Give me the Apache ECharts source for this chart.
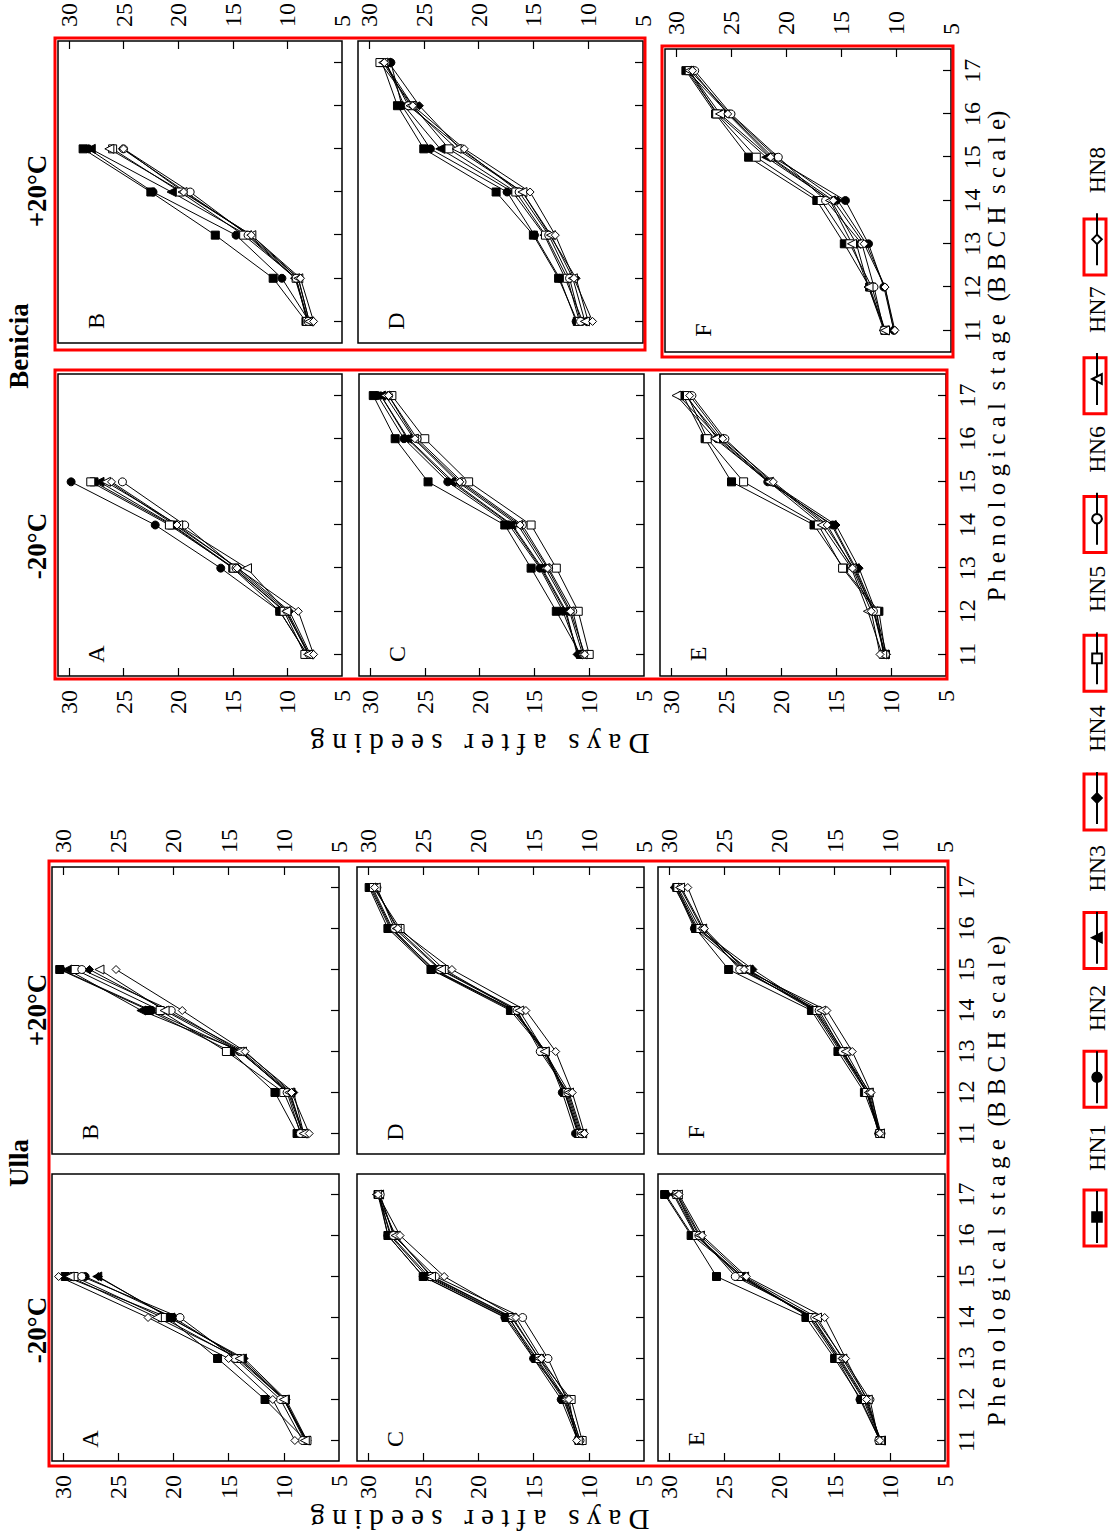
<!DOCTYPE html>
<html><head><meta charset="utf-8">
<script src="https://cdn.jsdelivr.net/npm/echarts/dist/echarts.min.js"></script>
<style>
html,body{margin:0;padding:0;background:#fff;overflow:hidden;}
#wrap{position:absolute;left:0;top:0;width:1111px;height:1538px;overflow:hidden;background:#fff;}
#chart{position:absolute;left:0;top:0;width:1538px;height:1111px;transform-origin:0 0;transform:translate(0px,1538px) rotate(-90deg);}
</style></head>
<body><div id="wrap"><div id="chart"></div></div>
<script>
// ---------------- data ----------------
const stages = ['11','12','13','14','15','16','17'];
const dayTicks = [5, 10, 15, 20, 25, 30];
const lines = ['HN1','HN2','HN3','HN4','HN5','HN6','HN7','HN8'];
const markerShapes = ['rect','circle','triangle','diamond','rect','circle','triangle','diamond'];
const markerFilled = [true,true,true,true,false,false,false,false];

// Ulla, -20°C (A) and +20°C (B): only stages 11-15 fall inside the axis
const ullaA = [
  [8.0, 11.7, 16.0, 20.5, 29.8],
  [8.0, 10.0, 14.0, 20.0, 28.0],
  [8.0, 9.9, 13.8, 20.3, 26.9],
  [7.9, 9.8, 13.6, 20.4, 26.8],
  [7.9, 10.0, 14.2, 21.0, 29.0],
  [8.3, 10.3, 14.4, 19.4, 28.3],
  [8.1, 10.0, 14.0, 21.5, 29.4],
  [9.0, 11.0, 15.0, 22.3, 30.4]
];
const ullaB = [
  [8.8, 10.8, 14.8, 22.2, 30.3],
  [8.3, 9.6, 14.0, 22.0, 30.2],
  [8.3, 9.4, 13.8, 22.9, 29.6],
  [8.2, 9.1, 13.6, 20.6, 27.6],
  [8.4, 10.0, 15.2, 21.2, 28.9],
  [8.5, 9.7, 13.9, 20.2, 28.3],
  [8.2, 9.5, 14.0, 20.8, 26.7],
  [7.7, 9.3, 13.5, 19.2, 25.2]
];
const ullaC = [
  [10.9, 12.3, 14.8, 17.5, 25.0, 28.2, 29.1],
  [11.0, 12.5, 15.0, 17.6, 25.0, 28.2, 29.0],
  [10.9, 12.2, 14.7, 17.3, 24.7, 28.0, 29.0],
  [10.8, 12.0, 15.0, 17.2, 24.5, 27.9, 29.1],
  [10.6, 11.6, 14.5, 16.9, 24.2, 27.6, 29.0],
  [10.8, 12.0, 13.7, 16.0, 23.9, 27.7, 28.9],
  [11.0, 12.1, 14.5, 17.0, 24.3, 27.5, 29.2],
  [11.1, 11.8, 14.3, 16.6, 23.1, 27.1, 29.1]
];
const ullaD = [
  [10.9, 12.2, 14.0, 17.1, 24.3, 28.2, 29.9],
  [11.2, 12.4, 13.9, 16.9, 24.2, 28.0, 29.8],
  [11.0, 12.2, 14.0, 16.8, 24.0, 27.9, 29.7],
  [10.9, 12.1, 13.9, 16.7, 24.1, 27.8, 29.6],
  [10.8, 12.0, 14.2, 16.6, 23.1, 27.1, 29.5],
  [10.7, 11.9, 14.4, 16.5, 23.5, 27.6, 29.2],
  [10.6, 11.8, 14.0, 16.3, 23.4, 27.4, 29.3],
  [10.4, 11.5, 13.0, 15.7, 22.4, 27.3, 29.4]
];
const ullaE = [
  [10.9, 12.6, 15.0, 17.6, 25.7, 28.0, 30.4],
  [10.9, 12.7, 14.8, 17.3, 23.3, 27.9, 30.3],
  [10.8, 12.3, 14.6, 17.2, 23.5, 27.6, 29.6],
  [10.9, 12.4, 14.7, 17.0, 23.4, 27.5, 29.5],
  [10.8, 12.2, 14.5, 17.0, 23.7, 27.5, 29.3],
  [11.0, 11.8, 14.2, 16.8, 24.0, 27.3, 29.3],
  [10.9, 12.0, 14.3, 16.6, 23.2, 27.2, 29.2],
  [10.9, 12.1, 14.0, 15.9, 23.0, 27.0, 29.1]
];
const ullaF = [
  [10.9, 12.3, 14.7, 17.1, 24.6, 27.6, 29.3],
  [11.0, 12.1, 14.5, 16.9, 23.2, 27.7, 29.4],
  [10.9, 12.0, 14.3, 16.8, 22.8, 27.5, 29.5],
  [11.0, 12.0, 14.4, 16.7, 22.4, 27.4, 29.3],
  [10.9, 12.1, 14.2, 16.6, 23.4, 27.2, 29.2],
  [10.8, 11.8, 14.3, 16.4, 23.6, 26.9, 28.9],
  [10.9, 11.9, 14.0, 16.2, 23.0, 27.0, 29.0],
  [10.9, 11.7, 13.4, 15.7, 23.2, 26.8, 28.3]
];
// Benicia
const benA = [
  [8.2, 10.7, 15.0, 20.6, 27.7],
  [8.2, 10.7, 16.1, 22.1, 29.8],
  [8.0, 10.2, 14.9, 20.5, 27.2],
  [7.9, 9.8, 14.5, 20.3, 26.3],
  [8.4, 10.3, 14.9, 20.8, 28.0],
  [8.0, 10.0, 14.7, 19.4, 25.1],
  [8.1, 10.1, 13.7, 20.0, 26.6],
  [7.6, 9.0, 14.6, 20.1, 26.1]
];
const benB = [
  [8.3, 11.3, 16.6, 22.5, 28.7],
  [8.0, 10.5, 14.7, 22.3, 28.2],
  [8.1, 9.3, 13.7, 20.6, 28.0],
  [8.0, 9.0, 13.5, 19.3, 25.1],
  [8.2, 9.2, 14.0, 19.8, 26.0],
  [8.1, 9.2, 13.6, 18.9, 25.0],
  [8.0, 9.0, 13.3, 19.6, 26.3],
  [7.6, 8.8, 13.3, 19.5, 25.0]
];
const benC = [
  [10.8, 13.0, 15.3, 17.7, 24.7, 27.7, 29.7],
  [10.9, 12.4, 14.5, 17.3, 22.9, 26.9, 29.3],
  [11.0, 12.2, 14.4, 17.1, 22.6, 26.6, 29.0],
  [11.1, 12.1, 14.3, 17.0, 22.4, 26.5, 29.0],
  [10.0, 11.0, 13.0, 15.3, 21.0, 25.0, 28.0],
  [10.5, 11.5, 13.7, 16.1, 21.6, 25.7, 28.3],
  [10.6, 11.8, 14.0, 16.5, 22.0, 26.0, 28.6],
  [10.4, 11.7, 13.8, 16.3, 21.8, 25.9, 28.3]
];
const benD = [
  [11.0, 12.7, 15.0, 18.4, 25.0, 27.4, 28.8],
  [11.1, 12.6, 14.9, 17.4, 24.4, 27.0, 28.0],
  [10.5, 12.1, 14.0, 16.9, 23.5, 26.8, 28.4],
  [10.0, 11.1, 13.5, 16.0, 21.7, 25.4, 28.2],
  [10.8, 11.9, 13.9, 16.6, 22.7, 26.0, 29.0],
  [10.7, 11.7, 13.6, 16.3, 21.5, 26.4, 28.5],
  [10.3, 11.4, 13.4, 16.0, 22.0, 26.2, 28.7],
  [9.6, 11.3, 13.0, 15.3, 21.3, 26.0, 28.6]
];
const benE = [
  [10.5, 11.1, 14.3, 17.0, 24.5, 26.9, 28.9],
  [10.6, 11.5, 13.2, 15.3, 21.2, 25.8, 28.6],
  [10.6, 11.6, 13.3, 15.4, 21.1, 25.6, 29.3],
  [10.4, 11.4, 12.9, 15.0, 21.0, 25.5, 28.7],
  [10.7, 11.3, 14.4, 16.6, 23.4, 26.7, 28.5],
  [10.5, 11.6, 13.4, 16.0, 20.9, 25.1, 28.1],
  [10.8, 12.1, 13.6, 16.3, 21.1, 26.0, 29.5],
  [11.0, 11.8, 13.5, 15.8, 20.7, 25.3, 28.3]
];
const benF = [
  [11.0, 12.4, 14.7, 17.2, 23.4, 26.4, 29.1],
  [10.2, 11.1, 12.5, 14.6, 21.2, 25.2, 29.0],
  [11.1, 12.5, 13.6, 15.9, 21.8, 26.2, 29.0],
  [10.2, 11.0, 12.7, 15.3, 20.9, 25.1, 28.7],
  [11.0, 12.2, 14.2, 16.8, 22.7, 26.3, 28.8],
  [11.1, 12.0, 13.1, 16.4, 20.7, 25.0, 28.3],
  [11.0, 12.5, 14.0, 16.0, 21.5, 26.0, 28.8],
  [10.1, 11.0, 12.9, 15.7, 21.4, 25.3, 28.5]
];

// ---------------- layout (chart drawn in landscape, then turned) ----------------
const FONT = '"Liberation Serif", "Times New Roman", serif';
const panels = [
  {d: ullaA, L: 'A', left: 77,   top: 52,  w: 287, h: 287, side: 'left',  xl: false},
  {d: ullaB, L: 'B', left: 384,  top: 52,  w: 287, h: 287, side: 'right', xl: false},
  {d: ullaC, L: 'C', left: 77,   top: 357, w: 287, h: 287, side: 'left',  xl: false},
  {d: ullaD, L: 'D', left: 384,  top: 357, w: 287, h: 287, side: 'right', xl: false},
  {d: ullaE, L: 'E', left: 77,   top: 658, w: 287, h: 287, side: 'left',  xl: true},
  {d: ullaF, L: 'F', left: 384,  top: 658, w: 287, h: 287, side: 'right', xl: true},
  {d: benA,  L: 'A', left: 862,  top: 58,  w: 302, h: 284, side: 'left',  xl: false},
  {d: benB,  L: 'B', left: 1195, top: 58,  w: 302, h: 284, side: 'right', xl: false},
  {d: benC,  L: 'C', left: 862,  top: 359, w: 302, h: 285, side: 'left',  xl: false},
  {d: benD,  L: 'D', left: 1195, top: 358, w: 302, h: 285, side: 'right', xl: false},
  {d: benE,  L: 'E', left: 862,  top: 660, w: 302, h: 286, side: 'left',  xl: true},
  {d: benF,  L: 'F', left: 1186, top: 665, w: 303, h: 286, side: 'right', xl: true}
];

const grid = [], xAxis = [], yAxis = [], series = [], graphic = [];
const tickStyle = {color: '#000', width: 1.2};
panels.forEach((p, i) => {
  grid.push({left: p.left, top: p.top, width: p.w, height: p.h, show: true,
    borderColor: '#000', borderWidth: 1.5, backgroundColor: 'transparent',
    containLabel: false, outerBoundsMode: 'none'});
  xAxis.push({type: 'category', gridIndex: i, data: stages, boundaryGap: true,
    axisLine: {show: false}, splitLine: {show: false},
    axisTick: {show: true, inside: true, alignWithLabel: true, length: 8, lineStyle: tickStyle},
    axisLabel: {show: p.xl, interval: 0, margin: 9, fontSize: 24, fontFamily: FONT, color: '#000'}});
  yAxis.push({type: 'value', gridIndex: i, position: p.side, min: 5, max: 31, interval: 5,
    axisLine: {show: false}, splitLine: {show: false},
    axisTick: {show: true, inside: true, length: 8, lineStyle: tickStyle, customValues: [10, 15, 20, 25, 30]},
    axisLabel: {show: true, margin: 14, fontSize: 24, fontFamily: FONT, color: '#000',
      customValues: dayTicks, showMaxLabel: true,
      formatter: v => (dayTicks.indexOf(v) >= 0 ? String(v) : '')}});
  lines.forEach((name, k) => {
    series.push({type: 'line', name: name, xAxisIndex: i, yAxisIndex: i, data: p.d[k],
      symbol: markerShapes[k], symbolSize: markerShapes[k] === 'triangle' ? 9 : 8,
      showSymbol: true, silent: true, animation: false, emphasis: {disabled: true},
      lineStyle: {color: '#000', width: 1},
      itemStyle: {color: markerFilled[k] ? '#000' : '#fff', borderColor: '#000', borderWidth: 1}});
  });
  graphic.push({type: 'text', x: p.left + 22, y: p.top + 38, silent: true,
    style: {text: p.L, font: '24px ' + FONT, fill: '#000', align: 'center', verticalAlign: 'middle',
      textAlign: 'center', textVerticalAlign: 'middle'}});
});

function txt(t, x, y, font, rot) {
  return {type: 'text', x: x, y: y, rotation: rot || 0, silent: true,
    style: {text: t, font: font, fill: '#000', align: 'center', verticalAlign: 'middle',
      textAlign: 'center', textVerticalAlign: 'middle'}};
}
const bold = 'bold 27px ' + FONT;
graphic.push(txt('Ulla', 375, 19, bold));
graphic.push(txt('-20°C', 208, 37, bold));
graphic.push(txt('+20°C', 528, 37, bold));
graphic.push(txt('Benicia', 1192, 19, bold));
graphic.push(txt('-20°C', 992, 37, bold));
graphic.push(txt('+20°C', 1347, 37, bold));
const daysName = 'D a y s   a f t e r   s e e d i n g';
const stageName = 'P h e n o l o g i c a l  s t a g e  (B B C H  s c a l e)';
graphic.push(txt(daysName, 18, 480, '29px ' + FONT, Math.PI / 2));
graphic.push(txt(daysName, 794, 480, '29px ' + FONT, Math.PI / 2));
graphic.push(txt(stageName, 357, 996, '25px ' + FONT));
graphic.push(txt(stageName, 1182, 996, '25px ' + FONT));

// red annotation frames
function redRect(x, y, w, h) {
  return {type: 'rect', silent: true, shape: {x: x, y: y, width: w, height: h},
    style: {fill: 'none', stroke: '#ff0000', lineWidth: 3}};
}
graphic.push(redRect(72, 49, 605, 899));
graphic.push(redRect(859, 55, 309, 892));
graphic.push(redRect(1188, 55, 312, 590));
graphic.push(redRect(1181, 662, 311, 291));

// legend geometry
const legLeft = 294, legIconW = 52, legGap = 20, legFont = 24, legPad = 15;
const legTextW = 46.7;
lines.forEach((n, i) => {
  const cx = legLeft + legIconW / 2 + i * (legIconW + 5 + legPad + legTextW + legGap);
  graphic.push(redRect(cx - 28, 1084, 56, 22));
});

const option = {
  animation: false,
  backgroundColor: '#fff',
  grid: grid, xAxis: xAxis, yAxis: yAxis, series: series,
  legend: {data: lines, left: legLeft, top: 1085, orient: 'horizontal', padding: 0,
    itemWidth: legIconW, itemHeight: 12, itemGap: legGap, selectedMode: false,
    textStyle: {fontSize: legFont, fontFamily: FONT, color: '#000', padding: [0, 0, 0, legPad]}},
  graphic: {elements: graphic}
};
const chart = echarts.init(document.getElementById('chart'), null, {renderer: 'svg', width: 1538, height: 1111});
chart.setOption(option);
</script>
</body></html>
